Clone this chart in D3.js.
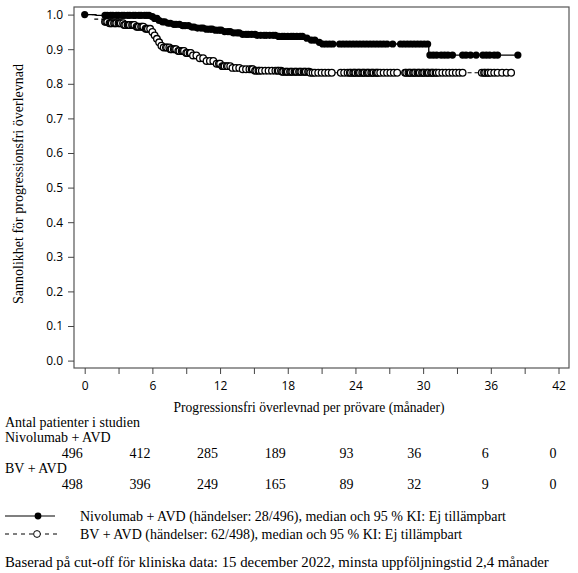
<!DOCTYPE html>
<html>
<head>
<meta charset="utf-8">
<script src="https://cdn.jsdelivr.net/npm/d3@7"></script>
<style>
  body { margin: 0; background: #fff; }
  .serif { font-family: "Liberation Serif", "Times New Roman", serif; font-size: 14px; fill: #000; }
  .tick text { font-family: "Open Sans", "Noto Sans", sans-serif; font-size: 12px; fill: #000; }
  .tick line { stroke: #444; }
</style>
</head>
<body>
<div id="chart"></div>
<script>
// Kaplan-Meier steps: time (months) and survival after the step
const nivoTimes = [0, 1.0, 5.8, 6.1, 6.5, 6.8, 7.3, 7.8, 8.6, 9.3, 10.0, 10.8, 11.6, 12.4, 13.2, 14.0, 15.3, 17.0, 19.6, 20.0, 20.5, 21.0, 30.5];
const nivoSurv  = [1.0, 0.998, 0.994, 0.989, 0.983, 0.979, 0.975, 0.972, 0.968, 0.964, 0.961, 0.958, 0.955, 0.951, 0.947, 0.943, 0.940, 0.937, 0.932, 0.926, 0.920, 0.915, 0.883];
const nivoEnd = 38.4;

const bvTimes = [0, 0.9, 1.6, 2.2, 3.5, 4.5, 5.3, 5.9, 6.1, 6.3, 6.5, 6.7, 7.0, 7.6, 8.3, 9.0, 9.6, 10.2, 10.8, 11.5, 12.2, 13.0, 14.0, 15.0, 17.5, 20.0];
const bvSurv  = [1.0, 0.987, 0.979, 0.975, 0.970, 0.965, 0.959, 0.950, 0.940, 0.930, 0.920, 0.910, 0.905, 0.900, 0.895, 0.889, 0.882, 0.874, 0.866, 0.858, 0.851, 0.846, 0.842, 0.838, 0.835, 0.832];
const bvEnd = 37.8;

// censored observations (months)
const nivoCens = [0,
  1.8, 2.0, 2.3, 2.5, 2.8, 3.0, 3.3, 3.5, 3.8, 4.0, 4.3, 4.5, 4.8, 5.0, 5.3, 5.5, 5.7, 6.0, 6.2, 6.4, 6.6, 6.9, 7.1, 7.4, 7.6, 7.9,
  8.1, 8.4, 8.7, 8.9, 9.2, 9.5, 9.7, 10.0, 10.3, 10.5, 10.8, 11.1, 11.3, 11.6, 11.9, 12.1, 12.4, 12.7, 12.9, 13.2, 13.5, 13.7,
  14.0, 14.3, 14.5, 14.8, 15.1, 15.3, 15.6, 15.9, 16.1, 16.4, 16.7, 16.9, 17.2, 17.5, 17.7, 18.0, 18.3, 18.5, 18.8, 19.1, 19.3,
  19.7, 20.1, 20.4, 20.8, 21.1, 21.4, 21.7, 22.0,
  22.6, 22.9, 23.2, 23.5, 23.8, 24.1, 24.4, 24.7, 25.0, 25.3, 25.6, 25.9, 26.2, 26.5, 26.8,
  27.3,
  28.0, 28.3, 28.6, 28.9, 29.2, 29.5, 29.8, 30.1, 30.4,
  30.6, 30.9, 31.2, 31.6, 31.9, 32.2, 32.6,
  33.5, 33.8, 34.2, 34.7,
  35.3, 35.6, 35.9, 36.3, 36.6,
  38.4];

const bvCens = [
  1.8, 1.9, 2.0, 2.2, 2.3, 2.4, 2.6, 2.7, 2.8, 3.0, 3.1, 3.2, 3.4, 3.5, 3.6, 3.8, 3.9, 4.0, 4.2, 4.3, 4.4, 4.6, 4.7, 4.8,
  5.0, 5.1, 5.2, 5.4, 5.5, 5.6, 5.8,
  6.0, 6.2, 6.4, 6.6, 6.8, 7.0,
  7.2, 7.3, 7.5, 7.6, 7.7, 7.9, 8.0, 8.1, 8.3, 8.4, 8.6, 8.7, 8.8, 9.0, 9.1, 9.3, 9.4,
  9.6, 9.9, 10.2, 10.5, 10.8, 11.1, 11.4, 11.7,
  11.9, 12.0, 12.2, 12.3, 12.4, 12.6, 12.7, 12.9,
  13.1, 13.4, 13.7, 14.0, 14.3, 14.6, 14.8, 14.9, 15.1, 15.2, 15.4, 15.5, 15.7, 16.0, 16.3, 16.6, 16.9,
  17.1, 17.2, 17.4, 17.5, 17.6, 17.8, 17.9, 18.0, 18.2, 18.3, 18.4, 18.6, 18.7, 18.8, 19.0, 19.1, 19.2, 19.4, 19.5, 19.6,
  19.8, 19.9, 20.0, 20.2, 20.4, 20.7, 21.0, 21.3, 21.6, 21.9,
  22.7, 23.0, 23.3, 23.5, 23.6, 23.8, 23.9, 24.0, 24.2, 24.3, 24.4, 24.6, 24.7, 24.8, 25.0, 25.1, 25.2, 25.4, 25.5, 25.6,
  25.8, 25.9, 26.0, 26.2, 26.5, 26.8, 27.1, 27.4, 27.7,
  28.4, 28.5, 28.7, 28.8, 28.9, 29.1, 29.2, 29.3, 29.5, 29.6, 29.7, 29.9, 30.0, 30.1, 30.3, 30.4, 30.5, 30.7, 30.8, 30.9,
  31.1, 31.2, 31.4, 31.7, 32.0, 32.3, 32.6, 32.9, 33.2, 33.5,
  35.2, 35.4, 35.5, 35.7, 35.8, 36.0, 36.3, 36.6, 37.0, 37.4, 37.8];

// axis ticks
const xTicks = [0, 3, 6, 9, 12, 15, 18, 21, 24, 27, 30, 33, 36, 39, 42];
const yTicks = [0, 0.1, 0.2, 0.3, 0.4, 0.5, 0.6, 0.7, 0.8, 0.9, 1.0];

// number at risk table
const riskTimes = [0, 6, 12, 18, 24, 30, 36, 42];
const nivoRisk = [496, 412, 285, 189, 93, 36, 6, 0];
const bvRisk   = [498, 396, 249, 165, 89, 32, 9, 0];

const W = 578, H = 573;
const frame = { left: 74, right: 569, top: 7, bottom: 368 };

const svg = d3.select("#chart").append("svg")
  .attr("width", W)
  .attr("height", H);

const x = d3.scaleLinear().domain([0, 42]).range([84.7, 558.5]);
const y = d3.scaleLinear().domain([0, 1]).range([360.6, 14.6]);

// frame
svg.append("rect")
  .attr("x", frame.left)
  .attr("y", frame.top)
  .attr("width", frame.right - frame.left)
  .attr("height", frame.bottom - frame.top)
  .attr("fill", "none")
  .attr("stroke", "#555")
  .attr("stroke-width", 1.2);

// axes
const yAxis = svg.append("g")
  .attr("transform", `translate(${frame.left},0)`)
  .call(d3.axisLeft(y).tickValues(yTicks).tickFormat(d3.format(".1f")).tickSize(6).tickPadding(5));
yAxis.select(".domain").remove();

const xAxis = svg.append("g")
  .attr("transform", `translate(0,${frame.bottom})`)
  .call(d3.axisBottom(x).tickValues(xTicks).tickFormat(d => d % 6 === 0 ? d : "").tickSize(6).tickPadding(7));
xAxis.select(".domain").remove();

// axis titles
svg.append("text")
  .attr("class", "serif")
  .attr("transform", "translate(23,184) rotate(-90)")
  .attr("text-anchor", "middle")
  .text("Sannolikhet för progressionsfri överlevnad");

svg.append("text")
  .attr("class", "serif")
  .attr("x", 309)
  .attr("y", 412)
  .attr("text-anchor", "middle")
  .style("font-size", "13.6px")
  .text("Progressionsfri överlevnad per prövare (månader)");

// curves
function stepData(times, surv, end) {
  const pts = times.map((t, i) => ({ t: t, s: surv[i] }));
  pts.push({ t: end, s: surv[surv.length - 1] });
  return pts;
}
function survAt(times, surv, t) {
  let s = surv[0];
  times.forEach((tt, i) => { if (tt <= t) s = surv[i]; });
  return s;
}

const line = d3.line()
  .x(d => x(d.t))
  .y(d => y(d.s))
  .curve(d3.curveStepAfter);

// BV + AVD (dashed, open circles)
svg.append("path")
  .datum(stepData(bvTimes, bvSurv, bvEnd))
  .attr("fill", "none")
  .attr("stroke", "#000")
  .attr("stroke-width", 1.1)
  .attr("stroke-dasharray", "4,3")
  .attr("d", line);

svg.selectAll("circle.bv")
  .data(bvCens)
  .enter()
  .append("circle")
  .attr("class", "bv")
  .attr("cx", d => x(d))
  .attr("cy", d => y(survAt(bvTimes, bvSurv, d)))
  .attr("r", 3.3)
  .attr("fill", "#fff")
  .attr("stroke", "#000")
  .attr("stroke-width", 1.3);

// Nivolumab + AVD (solid, filled circles)
svg.append("path")
  .datum(stepData(nivoTimes, nivoSurv, nivoEnd))
  .attr("fill", "none")
  .attr("stroke", "#000")
  .attr("stroke-width", 1.3)
  .attr("d", line);

svg.selectAll("circle.nivo")
  .data(nivoCens)
  .enter()
  .append("circle")
  .attr("class", "nivo")
  .attr("cx", d => x(d))
  .attr("cy", d => y(survAt(nivoTimes, nivoSurv, d)))
  .attr("r", 3.6)
  .attr("fill", "#000");

// number at risk
svg.append("text").attr("class", "serif").attr("x", 5).attr("y", 427).text("Antal patienter i studien");
svg.append("text").attr("class", "serif").attr("x", 5).attr("y", 442).text("Nivolumab + AVD");
svg.append("text").attr("class", "serif").attr("x", 5).attr("y", 473).text("BV + AVD");

svg.selectAll("text.riskNivo")
  .data(nivoRisk)
  .enter()
  .append("text")
  .attr("class", "serif riskNivo")
  .attr("x", (d, i) => x(riskTimes[i]) - 2)
  .attr("y", 458)
  .attr("text-anchor", "end")
  .text(d => d);

svg.selectAll("text.riskBv")
  .data(bvRisk)
  .enter()
  .append("text")
  .attr("class", "serif riskBv")
  .attr("x", (d, i) => x(riskTimes[i]) - 2)
  .attr("y", 489)
  .attr("text-anchor", "end")
  .text(d => d);

// legend
const legend = svg.append("g");
legend.append("line")
  .attr("x1", 5).attr("x2", 55).attr("y1", 516).attr("y2", 516)
  .attr("stroke", "#000").attr("stroke-width", 1.2);
legend.append("circle")
  .attr("cx", 38).attr("cy", 516).attr("r", 3.4).attr("fill", "#000");
legend.append("text").attr("class", "serif").attr("x", 80).attr("y", 521)
  .text("Nivolumab + AVD (händelser: 28/496), median och 95 % KI: Ej tillämpbart");

legend.append("line")
  .attr("x1", 5).attr("x2", 57).attr("y1", 534).attr("y2", 534)
  .attr("stroke", "#000").attr("stroke-width", 1).attr("stroke-dasharray", "4,4");
legend.append("circle")
  .attr("cx", 37).attr("cy", 534).attr("r", 3.4)
  .attr("fill", "#fff").attr("stroke", "#000").attr("stroke-width", 1);
legend.append("text").attr("class", "serif").attr("x", 80).attr("y", 539)
  .text("BV + AVD (händelser: 62/498), median och 95 % KI: Ej tillämpbart");

svg.append("text").attr("class", "serif").attr("x", 5).attr("y", 567)
  .style("font-size", "14.8px")
  .text("Baserad på cut-off för kliniska data: 15 december 2022, minsta uppföljningstid 2,4 månader");
</script>
</body>
</html>
